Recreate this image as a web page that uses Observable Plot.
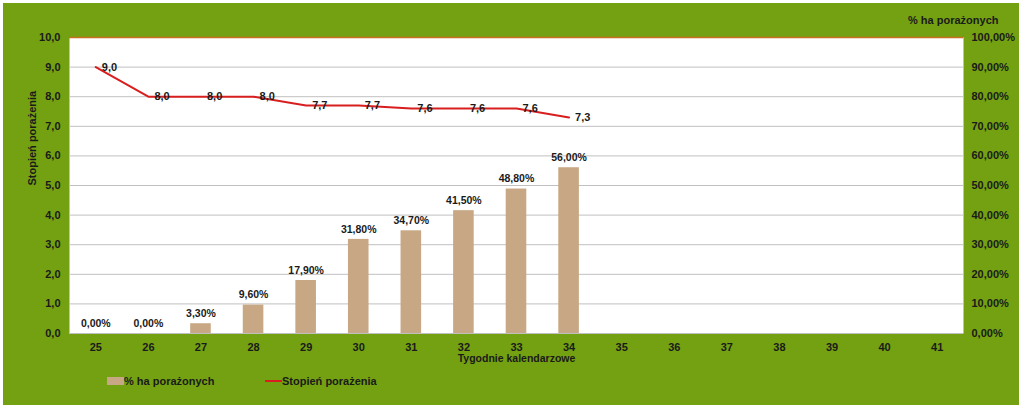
<!DOCTYPE html>
<html>
<head>
<meta charset="utf-8">
<script src="https://cdn.jsdelivr.net/npm/d3@7"></script>
<script src="https://cdn.jsdelivr.net/npm/@observablehq/plot@0.6"></script>
<style>
  html, body { margin: 0; padding: 0; background: #ffffff; }
  #frame { position: absolute; left: 3px; top: 3px; width: 1016px; height: 402px; background: #74A112; overflow: hidden; font-family: Arial, "Liberation Sans", sans-serif; font-weight: bold; font-size: 11px; color: #1a1a1a; }
  #chart { position: absolute; left: 0; top: 0; }
  .leg { position: absolute; top: 371px; height: 14px; line-height: 14px; white-space: nowrap; }
  .sw-bar { position: absolute; width: 17px; height: 8px; background: #C8A884; top: 3px; left: 0; }
  .sw-line { position: absolute; width: 17px; height: 2px; background: #D81E1E; top: 6px; left: 0; }
  .leg span.t { position: absolute; left: 17px; top: 0; }
</style>
</head>
<body>
<div id="frame">
  <div id="chart"></div>
  <div class="leg" style="left:104px;"><div class="sw-bar"></div><span class="t">% ha porażonych</span></div>
  <div class="leg" style="left:262px;"><div class="sw-line"></div><span class="t">Stopień porażenia</span></div>
</div>
<script>
const weeks = ["25","26","27","28","29","30","31","32","33","34","35","36","37","38","39","40","41"];
const pctWeeks = ["25","26","27","28","29","30","31","32","33","34"];
const pctValues = [0.0, 0.0, 3.3, 9.6, 17.9, 31.8, 34.7, 41.5, 48.8, 56.0];
const degreeValues = [9.0, 8.0, 8.0, 8.0, 7.7, 7.7, 7.6, 7.6, 7.6, 7.3];
const yTicks = [0, 1, 2, 3, 4, 5, 6, 7, 8, 9, 10];
const yLabelLeft = "Stopień porażenia";
const yLabelRight = "% ha porażonych";
const xLabel = "Tygodnie kalendarzowe";

const bars = pctWeeks.map((w, i) => ({week: w, pct: pctValues[i]}));
const line = pctWeeks.map((w, i) => ({week: w, deg: degreeValues[i]}));
const comma = (v, n) => v.toFixed(n).replace(".", ",");

const chart = Plot.plot({
  width: 1016,
  height: 370,
  marginLeft: 66,
  marginRight: 56,
  marginTop: 34,
  marginBottom: 40,
  style: {background: "transparent", fontFamily: "Arial, 'Liberation Sans', sans-serif", fontSize: "11px", fontWeight: "bold", color: "#1a1a1a"},
  x: {type: "band", domain: weeks, padding: 0, round: false},
  y: {domain: [0, 10]},
  marks: [
    Plot.frame({fill: "white", stroke: "none"}),
    Plot.ruleY(yTicks.filter(d => d < 10), {stroke: "#C0C0C0", strokeWidth: 1}),
    Plot.ruleY([10], {stroke: "#C8701E", strokeWidth: 1.5}),
    Plot.barY(bars, {x: "week", y: d => d.pct / 10, fill: "#C8A884", insetLeft: 16, insetRight: 16}),
    Plot.text(bars, {x: "week", y: d => d.pct / 10, text: d => comma(d.pct, 2) + "%", dy: -10, fill: "#1a1a1a", fontWeight: "bold", fontSize: 10.5}),
    Plot.line(line, {x: "week", y: "deg", stroke: "#D81E1E", strokeWidth: 2}),
    Plot.text(line, {x: "week", y: "deg", text: d => comma(d.deg, 1), dx: 6, textAnchor: "start", fill: "#1a1a1a", fontWeight: "bold"}),
    Plot.axisY({anchor: "left", ticks: yTicks, tickFormat: d => comma(d, 1), tickSize: 0, tickPadding: 9, label: null}),
    Plot.axisY({anchor: "right", ticks: yTicks, tickFormat: d => comma(d * 10, 2) + "%", tickSize: 0, tickPadding: 8, label: null}),
    Plot.axisX({tickSize: 0, tickPadding: 10, label: null}),
    Plot.text([yLabelLeft], {frameAnchor: "left", rotate: -90, dx: -37, fill: "#1a1a1a", fontWeight: "bold"}),
    Plot.text([yLabelRight], {frameAnchor: "top-right", textAnchor: "end", dx: 35, dy: -21, fill: "#1a1a1a", fontWeight: "bold"}),
    Plot.text([xLabel], {frameAnchor: "bottom", dy: 28, fill: "#1a1a1a", fontWeight: "bold", fontSize: 10.5})
  ]
});
document.getElementById("chart").appendChild(chart);
</script>
</body>
</html>
